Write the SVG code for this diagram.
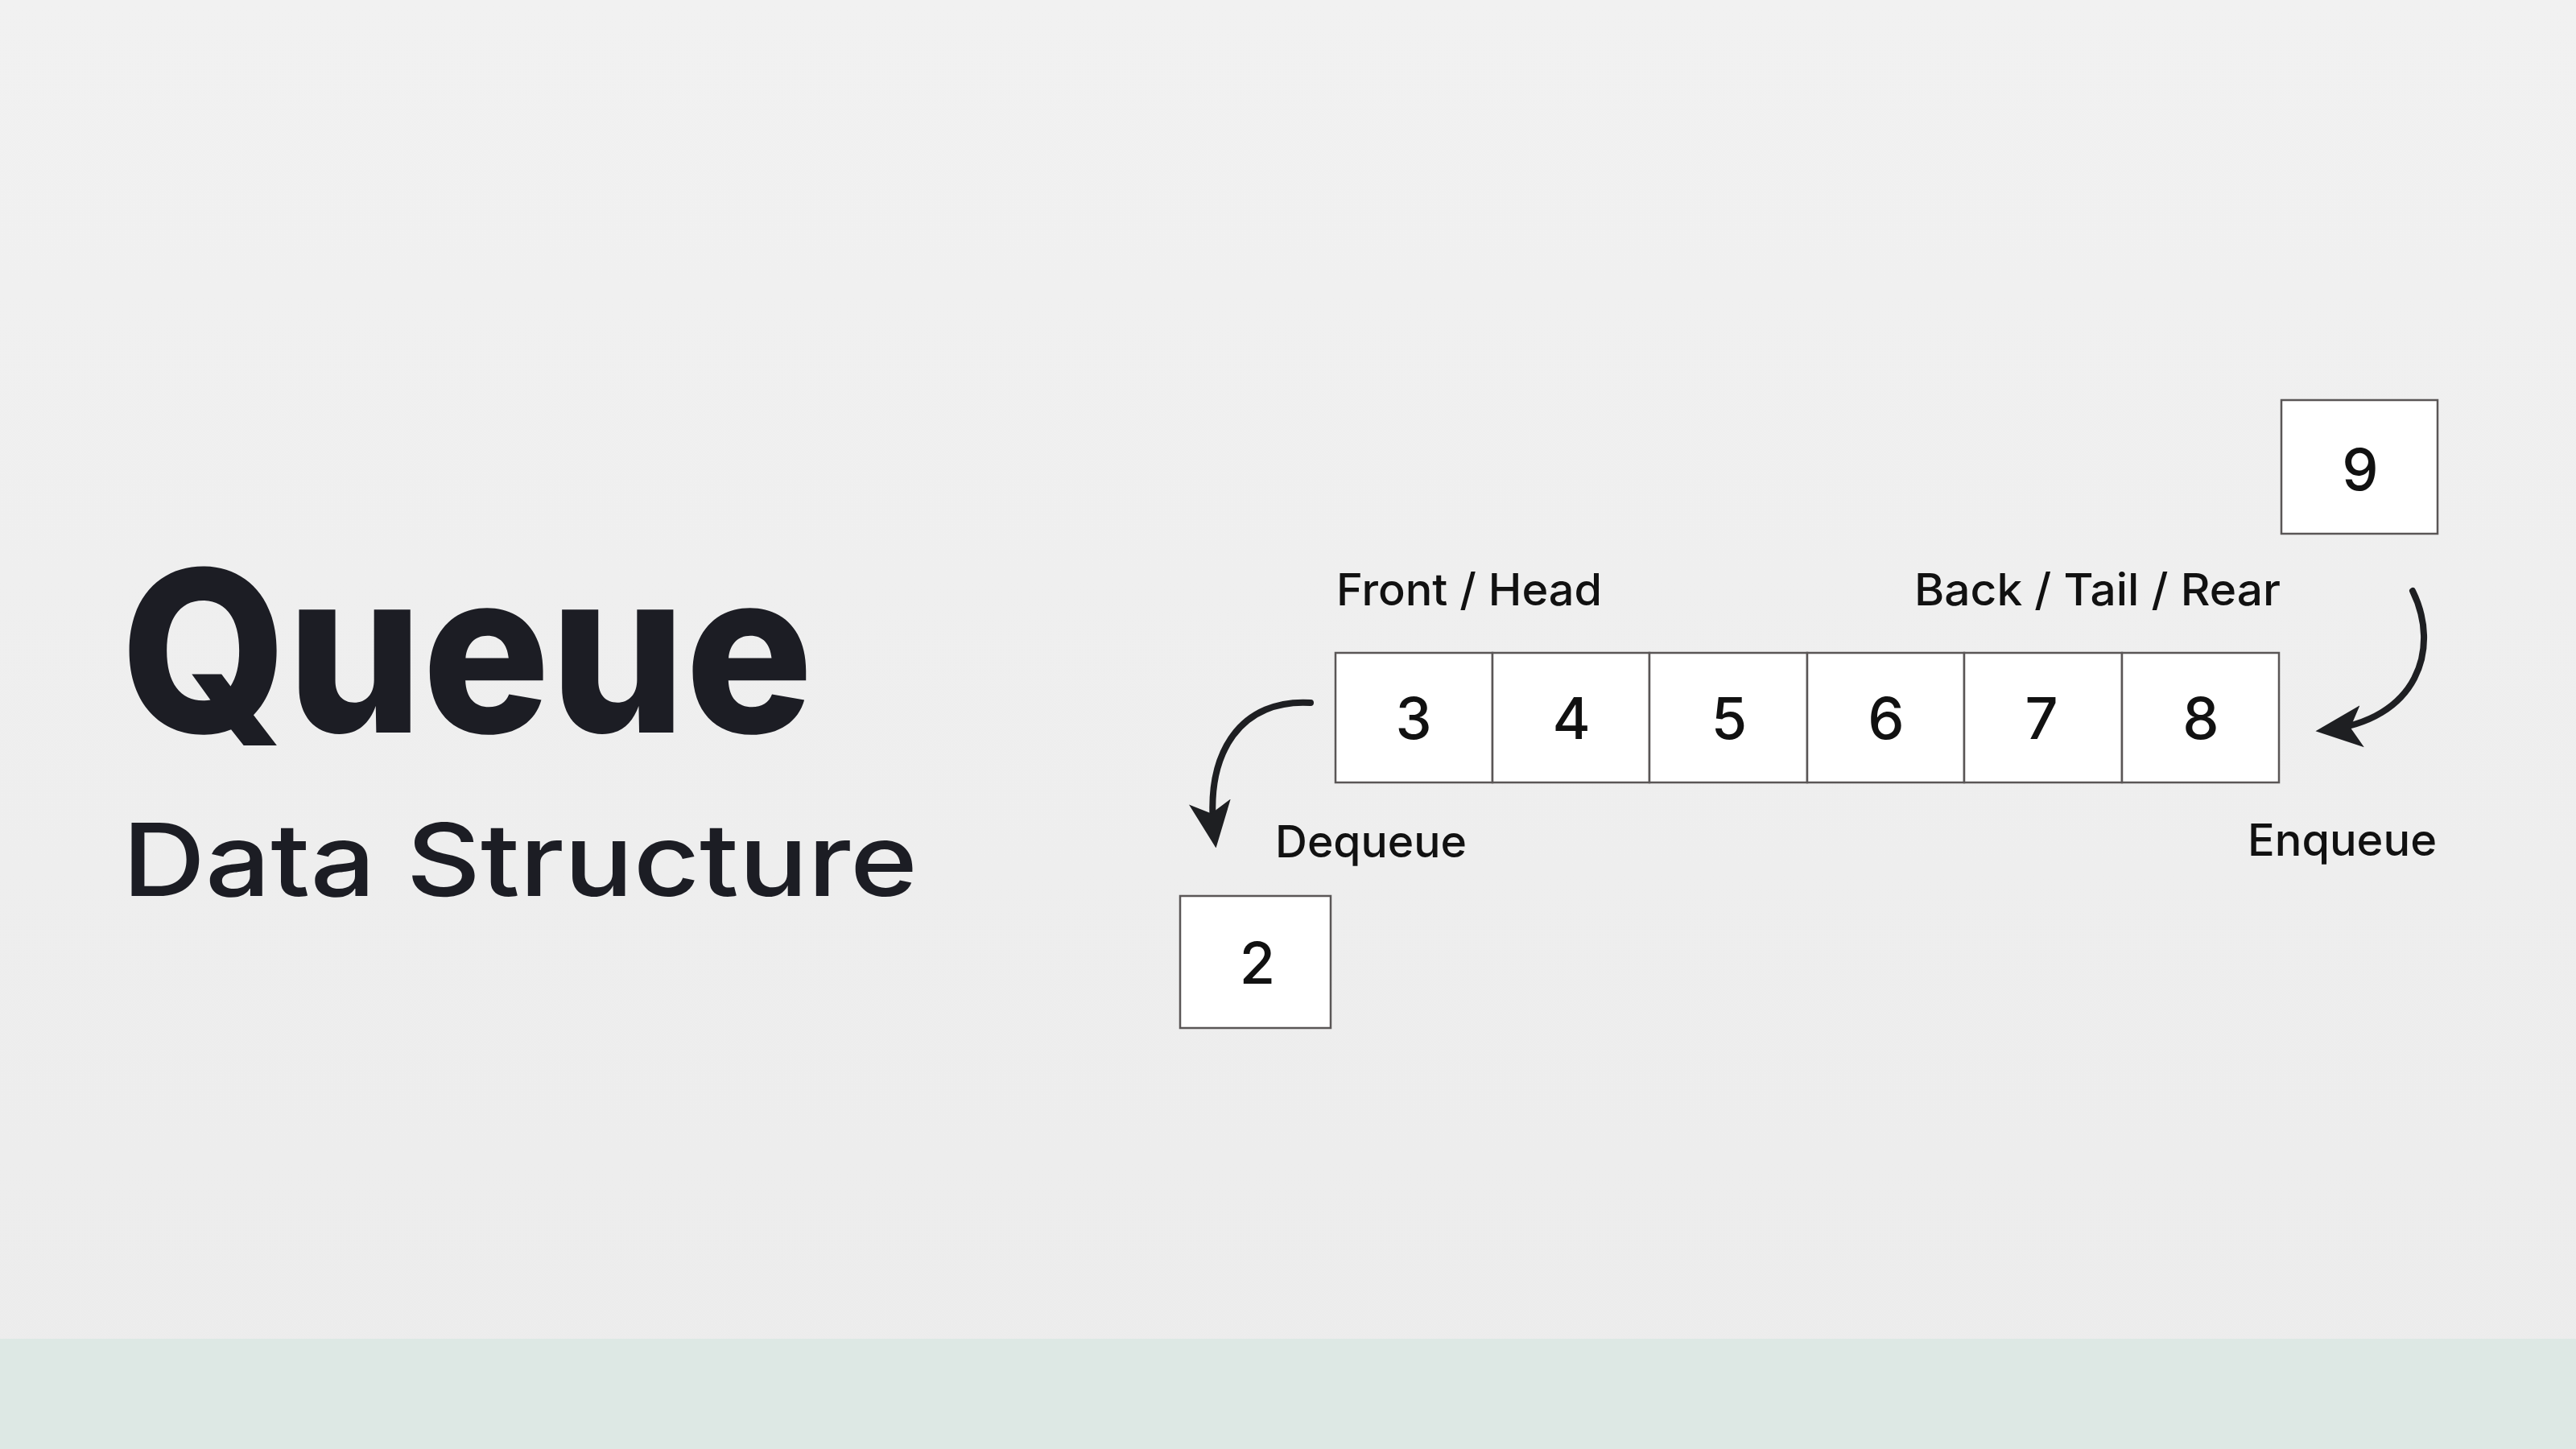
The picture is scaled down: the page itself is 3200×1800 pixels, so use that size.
<svg xmlns="http://www.w3.org/2000/svg" width="3200" height="1800" viewBox="0 0 3200 1800">
  <defs>
    <linearGradient id="bg" x1="0" y1="0" x2="0" y2="1">
      <stop offset="0" stop-color="#f1f1f1"/>
      <stop offset="1" stop-color="#ececec"/>
    </linearGradient>
    <marker id="head" viewBox="0 0 10 10" refX="8" refY="5" markerUnits="userSpaceOnUse" markerWidth="58" markerHeight="58" orient="auto">
      <path d="M0,0.5 L10,5 L0,9.5 L2.5,5 z" fill="#1e1f22"/>
    </marker>
    <style>
      .title { font-family: Inter, "Noto Sans", sans-serif; fill: #1c1d24; }
      .label { font-family: Inter, "Noto Sans", sans-serif; font-size: 55px; font-weight: 500; fill: #111; }
      .cell { fill: #ffffff; stroke: #5a5656; stroke-width: 2.5; }
      .num { font-family: Inter, "Noto Sans", sans-serif; font-size: 72px; font-weight: 500; fill: #111; text-anchor: middle; dominant-baseline: central; }
      .conn { fill: none; stroke: #1e1f22; stroke-width: 8; stroke-linecap: round; marker-end: url(#head); }
    </style>
  </defs>

  <rect x="0" y="0" width="3200" height="1800" fill="url(#bg)"/>
  <rect x="0" y="1663" width="3200" height="137" fill="#dde8e4"/>

  <g id="title">
    <text class="title" x="150" y="910" font-size="280" font-weight="800" textLength="860" lengthAdjust="spacingAndGlyphs">Queue</text>
    <text class="title" x="152" y="1113" font-size="125" font-weight="500" textLength="988" lengthAdjust="spacingAndGlyphs">Data Structure</text>
  </g>

  <g id="labels">
    <text class="label" x="1660" y="752" textLength="330" lengthAdjust="spacingAndGlyphs">Front / Head</text>
    <text class="label" x="2378" y="752" textLength="455" lengthAdjust="spacingAndGlyphs">Back / Tail / Rear</text>
    <text class="label" x="1584" y="1065" textLength="238" lengthAdjust="spacingAndGlyphs">Dequeue</text>
    <text class="label" x="2792" y="1063" textLength="235" lengthAdjust="spacingAndGlyphs">Enqueue</text>
  </g>

  <g id="queue">
    <g id="cell-3"><rect class="cell" x="1659" y="811" width="195" height="161"/><text class="num" x="1756" y="891">3</text></g>
    <g id="cell-4"><rect class="cell" x="1854" y="811" width="195" height="161"/><text class="num" x="1952" y="891">4</text></g>
    <g id="cell-5"><rect class="cell" x="2049" y="811" width="196" height="161"/><text class="num" x="2148" y="891">5</text></g>
    <g id="cell-6"><rect class="cell" x="2245" y="811" width="195" height="161"/><text class="num" x="2343" y="891">6</text></g>
    <g id="cell-7"><rect class="cell" x="2440" y="811" width="196" height="161"/><text class="num" x="2536" y="891">7</text></g>
    <g id="cell-8"><rect class="cell" x="2636" y="811" width="195" height="161"/><text class="num" x="2734" y="891">8</text></g>
  </g>

  <g id="node-9"><rect class="cell" x="2834" y="497" width="194" height="166"/><text class="num" x="2932" y="582">9</text></g>
  <g id="node-2"><rect class="cell" x="1466" y="1113" width="187" height="164"/><text class="num" x="1562" y="1195">2</text></g>

  <g id="connectors">
    <path class="conn" d="M 1628 873 C 1545 868, 1494 930, 1509 1042"/>
    <path class="conn" d="M 2997 734 C 3032 805, 3004 895, 2888 907"/>
  </g>
</svg>
